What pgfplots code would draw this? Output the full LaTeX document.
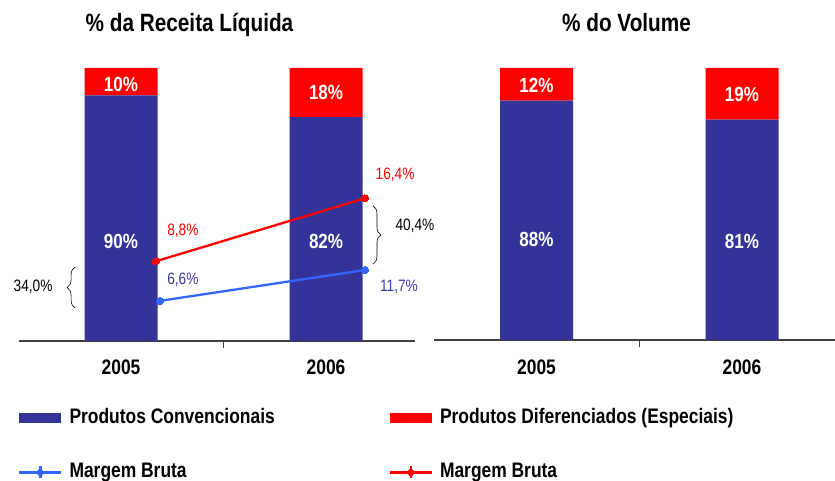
\documentclass[border=0pt]{standalone}
\usepackage{fontspec}
\setmainfont{Liberation Sans}[FakeStretch=0.83]
\usepackage{pgfplots}
\pgfplotsset{compat=1.18}
\usetikzlibrary{decorations.pathreplacing}
\definecolor{cblue}{HTML}{333399}
\definecolor{cred}{HTML}{FF0000}
\definecolor{lblue}{HTML}{3366FF}
\definecolor{lab}{HTML}{3A3AA6}
\definecolor{axgray}{HTML}{404040}
\newcommand\titlefont{\fontsize{25}{30}\selectfont\bfseries}
\newcommand\barfont{\fontsize{20.5}{24}\selectfont\bfseries}
\newcommand\catfont{\fontsize{21}{25}\selectfont\bfseries}
\newcommand\valfont{\fontsize{16.5}{20}\selectfont}
\pgfplotsset{
  panel/.style={scale only axis, ymin=0, ymax=100, clip=false,
    axis y line=none, axis x line*=bottom,
    x axis line style={color=axgray, line width=1.3pt},
    xtick={-0.5,0.5}, xticklabels={}, tick align=outside,
    major tick length=7pt,
    tick style={color=axgray, line width=1.3pt}},
  overlay/.style={scale only axis, ymin=0, ymax=100, clip=false, hide axis},
}
\begin{document}
\begin{tikzpicture}
\useasboundingbox (0pt,0pt) rectangle (835pt,481pt);
% ---------------- left panel: bars ----------------
\begin{axis}[panel, at={(19pt,140pt)}, anchor=south west,
  width=396pt, height=273pt, xmin=-0.4976, xmax=1.434,
  ybar stacked, bar width=73pt,
  legend columns=2,
  legend style={draw=none, fill=none, inner sep=0pt, outer sep=0pt,
    at={(axis description cs:-0.0025,-0.249)}, anchor=north west,
    row sep=35pt,
    nodes={inner sep=0pt, text height=15pt, text depth=4pt, font=\catfont},
    /tikz/every odd column/.append style={column sep=7pt}},
  legend cell align=left]
\addplot[fill=cblue, draw=none,
  legend image code/.code={\fill[cblue] (0pt,-5pt) rectangle (42pt,5pt);}]
  coordinates {(0,90) (1,82)};
\addplot[fill=cred, draw=none,
  legend image code/.code={\fill[cred] (0pt,-5pt) rectangle (42pt,5pt);}]
  coordinates {(0,10) (1,18)};
\addlegendimage{legend image code/.code={
  \draw[lblue, line width=2.5pt] (0pt,0pt) -- (42pt,0pt);
  \draw[lblue, line width=2.5pt] (21pt,-6pt) -- (21pt,6pt);
  \fill[lblue] (21pt,-4.5pt) -- (25pt,0pt) -- (21pt,4.5pt) -- (17pt,0pt) -- cycle;}}
\addlegendimage{legend image code/.code={
  \draw[cred, line width=2.5pt] (0pt,0pt) -- (42pt,0pt);
  \draw[cred, line width=2.5pt] (21pt,-6pt) -- (21pt,6pt);
  \fill[cred] (21pt,-4.5pt) -- (25pt,0pt) -- (21pt,4.5pt) -- (17pt,0pt) -- cycle;}}
\legend{\makebox[319pt][l]{Produtos Convencionais},
        Produtos Diferenciados (Especiais),
        \makebox[319pt][l]{Margem Bruta},
        Margem Bruta}
\node[font=\catfont, anchor=base, yshift=-34pt] at (axis cs:0,0) {2005};
\node[font=\catfont, anchor=base, yshift=-34pt] at (axis cs:1,0) {2006};
\end{axis}
% ---------------- left panel: margin lines and labels ----------------
\begin{axis}[overlay, at={(19pt,140pt)}, anchor=south west,
  width=396pt, height=273pt, xmin=-0.4976, xmax=1.434]
\addplot[color=cred, line width=2.3pt, mark=*, mark size=3.6pt,
  mark options={fill=cred, draw=cred, line width=0pt}]
  coordinates {(0.17,29.2) (1.19,52.3)};
\addplot[color=lblue, line width=2.3pt, mark=*, mark size=3.6pt,
  mark options={fill=lblue, draw=lblue, line width=0pt}]
  coordinates {(0.19,14.7) (1.19,26.0)};
\node[font=\barfont, text=white] at (axis cs:0,36.6) {90\%};
\node[font=\barfont, text=white] at (axis cs:1,36.6) {82\%};
\node[font=\barfont, text=white] at (axis cs:0,94.1) {10\%};
\node[font=\barfont, text=white] at (axis cs:1,91.2) {18\%};
\node[font=\valfont, text=cred] at (axis cs:0.302,40.3) {8,8\%};
\node[font=\valfont, text=lab] at (axis cs:0.302,22.3) {6,6\%};
\node[font=\valfont, text=cred] at (axis cs:1.337,60.8) {16,4\%};
\node[font=\valfont, text=lab] at (axis cs:1.356,19.8) {11,7\%};
\node[font=\valfont] at (axis cs:1.434,42.1) {40,4\%};
\node[font=\valfont] at (axis cs:-0.429,19.8) {34,0\%};
\draw[decorate, decoration={brace, amplitude=8pt}, line width=0.6pt]
  (axis cs:-0.224,12.1) -- (axis cs:-0.224,27.1);
\draw[decorate, decoration={brace, amplitude=8pt}, line width=0.6pt]
  (axis cs:1.229,49.5) -- (axis cs:1.229,28.2);
\end{axis}
% ---------------- right panel ----------------
\begin{axis}[panel, at={(434pt,141pt)}, anchor=south west,
  width=401pt, height=272pt, xmin=-0.4988, xmax=1.4526,
  ybar stacked, bar width=73pt]
\addplot[fill=cblue, draw=none] coordinates {(0,88) (1,81)};
\addplot[fill=cred, draw=none] coordinates {(0,12) (1,19)};
\node[font=\catfont, anchor=base, yshift=-35pt] at (axis cs:0,0) {2005};
\node[font=\catfont, anchor=base, yshift=-35pt] at (axis cs:1,0) {2006};
\end{axis}
\begin{axis}[overlay, at={(434pt,141pt)}, anchor=south west,
  width=401pt, height=272pt, xmin=-0.4988, xmax=1.4526]
\node[font=\barfont, text=white] at (axis cs:0,37.1) {88\%};
\node[font=\barfont, text=white] at (axis cs:1,36.4) {81\%};
\node[font=\barfont, text=white] at (axis cs:0,93.75) {12\%};
\node[font=\barfont, text=white] at (axis cs:1,90.1) {19\%};
\end{axis}
% ---------------- titles ----------------
\node[font=\titlefont, anchor=base] at (189.5pt,449pt) {\% da Receita Líquida};
\node[font=\titlefont, anchor=base] at (626.5pt,449pt) {\% do Volume};
\end{tikzpicture}
\end{document}
